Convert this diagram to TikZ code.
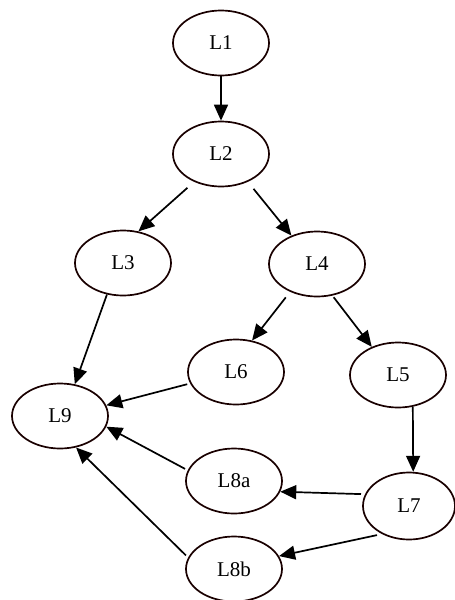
\documentclass[tikz,border=0pt]{standalone}
\usepackage{fontspec}
\setmainfont{Liberation Serif}
\usetikzlibrary{shapes.geometric,arrows.meta}
\begin{document}
\begin{tikzpicture}[x=1pt,y=-1pt,
  lnode/.style={ellipse,draw=black!90!red,line width=1.7pt,minimum width=96pt,minimum height=65pt,inner sep=0pt,font=\fontsize{21}{24}\selectfont},
  arr/.style={line width=1.7pt,-{Triangle[length=16pt,width=14pt]}}]
\useasboundingbox (0,0) rectangle (455,600);
\node[lnode] (L1) at (221,43) {L1};
\node[lnode] (L2) at (221,154) {L2};
\node[lnode] (L3) at (123,263) {L3};
\node[lnode] (L4) at (317,264) {L4};
\node[lnode] (L6) at (236,372) {L6};
\node[lnode] (L5) at (398,375) {L5};
\node[lnode] (L9) at (60,416) {L9};
\node[lnode] (L8a) at (234,481) {L8a};
\node[lnode,minimum width=92pt,minimum height=67pt] (L7) at (409,506) {L7};
\node[lnode] (L8b) at (234,569) {L8b};
\draw[arr] (L1.south) -- (L2.north);
\draw[arr,shorten <=9pt] (L2.226) -- (L3.64);
\draw[arr,shorten <=9pt] (L2.314) -- (L4.132);
\draw[arr] (L3.243) -- (L9.65);
\draw[arr,shorten <=7pt] (L4.226) -- (L6.63);
\draw[arr,shorten <=2pt] (L4.296) -- (L5.133);
\draw[arr,shorten <=3pt] (L6.194) -- (L9.13);
\draw[arr] (L5.295) -- (L7.83);
\draw[arr,shorten <=4pt] (L7.165) -- (L8a.347);
\draw[arr,shorten <=5pt] (L7.226) -- (L8b.16);
\draw[arr,shorten <=3pt] (L8a.167) -- (L9.347);
\draw[arr,shorten <=3pt] (L8b.166) -- (L9.297);
\end{tikzpicture}
\end{document}
